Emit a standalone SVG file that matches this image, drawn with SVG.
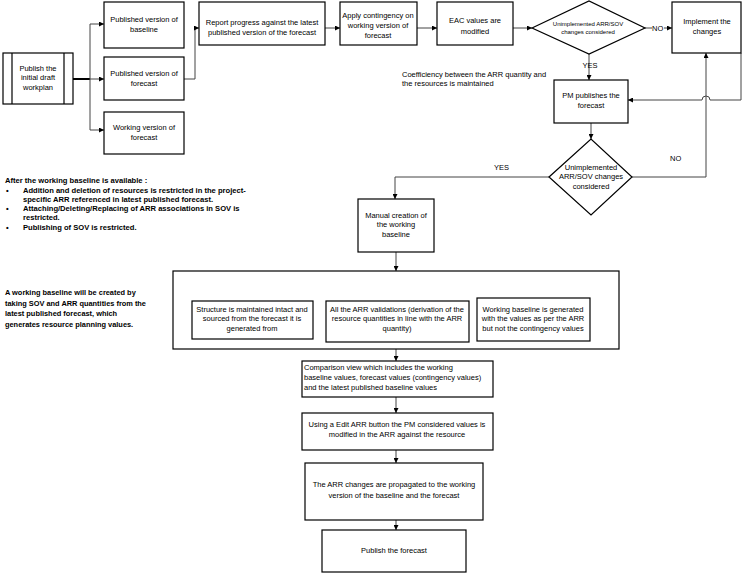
<svg xmlns="http://www.w3.org/2000/svg" width="747" height="574" viewBox="0 0 747 574">
<style>
.box{fill:#fff;stroke:#000;stroke-width:1.2}
.t{font-family:"Liberation Sans",Arial,sans-serif;font-size:7.5px;fill:#000;text-anchor:middle}
.tl{font-family:"Liberation Sans",Arial,sans-serif;font-size:7.5px;fill:#000}
.b{font-family:"Liberation Sans",Arial,sans-serif;font-size:7.6px;font-weight:bold;fill:#000}
.n{font-family:"Liberation Sans",Arial,sans-serif;font-size:7.4px;font-weight:bold;fill:#000}
.c{fill:none;stroke:#444;stroke-width:1}
</style>
<defs>
<marker id="a" viewBox="0 0 6 6" refX="6" refY="3" markerWidth="5" markerHeight="5" orient="auto" markerUnits="userSpaceOnUse">
<path d="M0,0 L6,3 L0,6 z" fill="#000"/>
</marker>
</defs>
<rect width="747" height="574" fill="#fff"/>

<g id="connectors">
<path d="M73,79 L90,79" stroke="#000" stroke-width="2" fill="none"/>
<path class="c" d="M90,24 L90,130"/>
<path class="c" d="M90,24 L104,24" marker-end="url(#a)"/>
<path class="c" d="M90,79 L104,79" marker-end="url(#a)"/>
<path class="c" d="M90,130 L104,130" marker-end="url(#a)"/>
<path class="c" d="M184,79 L195,79 L195,28 L199,28" marker-end="url(#a)"/>
<path class="c" d="M325,28 L340,28" marker-end="url(#a)"/>
<path class="c" d="M417,28 L437,28" marker-end="url(#a)"/>
<path class="c" d="M513,28 L532,28" marker-end="url(#a)"/>
<path class="c" d="M645,28 L652,28"/>
<path class="c" d="M664,28 L672,28" marker-end="url(#a)"/>
<path class="c" d="M589,54 L589,80" marker-end="url(#a)"/>
<path class="c" d="M741,53 L741,100 L710,100 A4,4 0 0 0 702,100 L628,100" marker-end="url(#a)"/>
<path class="c" d="M591,123 L591,139" marker-end="url(#a)"/>
<path class="c" d="M632,177 L706,177 L706,53" marker-end="url(#a)"/>
<path class="c" d="M549,177 L395,177 L395,199" marker-end="url(#a)"/>
<path class="c" d="M396,252 L396,271" marker-end="url(#a)"/>
<path class="c" d="M396,349 L396,361" marker-end="url(#a)"/>
<path class="c" d="M396,397 L396,413" marker-end="url(#a)"/>
<path class="c" d="M396,450 L396,463" marker-end="url(#a)"/>
<path class="c" d="M396,520 L396,530" marker-end="url(#a)"/>
<text class="tl" x="652" y="31">NO</text>
<text class="t" x="590" y="68">YES</text>
<text class="tl" x="670" y="161">NO</text>
<text class="tl" x="494" y="170">YES</text>
</g>

<g id="n-draft">
<rect class="box" x="3" y="53" width="70" height="51"/>
<path d="M12,53 L12,104 M64,53 L64,104" stroke="#000" stroke-width="1.2"/>
<text class="t" x="38" y="71">Publish the</text>
<text class="t" x="38" y="80">initial draft</text>
<text class="t" x="38" y="90">workplan</text>
</g>

<g id="n-pubbase">
<rect class="box" x="104" y="2" width="80" height="46"/>
<text class="t" x="144" y="22">Published version of</text>
<text class="t" x="144" y="32">baseline</text>
</g>

<g id="n-pubfc">
<rect class="box" x="104" y="57" width="80" height="43"/>
<text class="t" x="144" y="76">Published version of</text>
<text class="t" x="144" y="86">forecast</text>
</g>

<g id="n-workfc">
<rect class="box" x="104" y="112" width="80" height="42"/>
<text class="t" x="144" y="130">Working  version of</text>
<text class="t" x="144" y="140">forecast</text>
</g>

<g id="n-report">
<rect class="box" x="199" y="2" width="126" height="43"/>
<text class="t" x="262" y="25">Report progress against the latest</text>
<text class="t" x="262" y="35">published version of the forecast</text>
</g>

<g id="n-apply">
<rect class="box" x="340" y="2" width="77" height="43"/>
<text class="t" x="378" y="18">Apply contingency on</text>
<text class="t" x="378" y="28">working version of</text>
<text class="t" x="378" y="38">forecast</text>
</g>

<g id="n-eac">
<rect class="box" x="437" y="2" width="76" height="43"/>
<text class="t" x="475" y="23">EAC values are</text>
<text class="t" x="475" y="34">modified</text>
</g>

<g id="n-dec1">
<polygon class="box" points="532,28 589,1 645,28 589,54"/>
<text class="t" x="588" y="26" style="font-size:6px">Unimplemented ARR/SOV</text>
<text class="t" x="588" y="34" style="font-size:6px">changes considered</text>
</g>

<g id="n-impl">
<rect class="box" x="672" y="2" width="69" height="51"/>
<text class="t" x="707" y="24">Implement the</text>
<text class="t" x="707" y="34">changes</text>
</g>

<g id="n-coef">
<text class="tl" x="402" y="77">Coefficiency between the ARR quantity and</text>
<text class="tl" x="402" y="86">the resources  is maintained</text>
</g>

<g id="n-pm">
<rect class="box" x="554" y="80" width="74" height="43"/>
<text class="t" x="591" y="98">PM  publishes the</text>
<text class="t" x="591" y="108">forecast</text>
</g>

<g id="n-dec2">
<polygon class="box" points="549,177 591,139 632,177 591,215"/>
<text class="t" x="591" y="170">Unimplemented</text>
<text class="t" x="591" y="179">ARR/SOV changes</text>
<text class="t" x="591" y="189">considered</text>
</g>

<g id="n-after">
<text class="b" x="5" y="183">After the working baseline is available :</text>
<text class="b" x="6" y="193">•</text>
<text class="b" x="23" y="193">Addition and deletion of resources is restricted in the project-</text>
<text class="b" x="23" y="202">specific ARR referenced in latest published forecast.</text>
<text class="b" x="6" y="211">•</text>
<text class="b" x="23" y="211">Attaching/Deleting/Replacing of ARR associations in SOV is</text>
<text class="b" x="23" y="220">restricted.</text>
<text class="b" x="6" y="230">•</text>
<text class="b" x="23" y="230">Publishing of SOV is restricted.</text>
</g>

<g id="n-note">
<text class="n" x="5" y="295">A working baseline will be created by</text>
<text class="n" x="5" y="306">taking SOV and ARR quantities from the</text>
<text class="n" x="5" y="316">latest published forecast, which</text>
<text class="n" x="5" y="327">generates resource planning values.</text>
</g>

<g id="n-manual">
<rect class="box" x="358" y="199" width="76" height="53"/>
<text class="t" x="396" y="218">Manual creation of</text>
<text class="t" x="396" y="227">the  working</text>
<text class="t" x="396" y="237">baseline</text>
</g>

<g id="n-group">
<rect class="box" x="173" y="271" width="446" height="78"/>
</g>

<g id="n-struct">
<rect class="box" x="192" y="301" width="121" height="38"/>
<text class="t" x="252" y="312">Structure is maintained intact and</text>
<text class="t" x="252" y="321">sourced from the forecast it is</text>
<text class="t" x="252" y="331">generated from</text>
</g>

<g id="n-valid">
<rect class="box" x="326" y="301" width="143" height="41"/>
<text class="t" x="397" y="312">All the ARR validations (derivation of the</text>
<text class="t" x="397" y="321">resource quantities in line with the ARR</text>
<text class="t" x="397" y="331">quantity)</text>
</g>

<g id="n-wbgen">
<rect class="box" x="477" y="298" width="113" height="43"/>
<text class="t" x="533" y="312">Working baseline is generated</text>
<text class="t" x="533" y="321">with the values as per the ARR</text>
<text class="t" x="533" y="331">but not the contingency values</text>
</g>

<g id="n-compare">
<rect class="box" x="302" y="361" width="191" height="36"/>
<text class="tl" x="304" y="370">Comparison view  which includes the working</text>
<text class="tl" x="304" y="380">baseline values, forecast values (contingency values)</text>
<text class="tl" x="304" y="390">and the latest published baseline values</text>
</g>

<g id="n-edit">
<rect class="box" x="302" y="413" width="191" height="37"/>
<text class="t" x="397" y="427">Using a Edit ARR button the PM considered values is</text>
<text class="t" x="397" y="437">modified in the ARR against the resource</text>
</g>

<g id="n-propagate">
<rect class="box" x="305" y="463" width="178" height="57"/>
<text class="t" x="394" y="487">The ARR changes are propagated to the working</text>
<text class="t" x="394" y="498">version of the baseline and the forecast</text>
</g>

<g id="n-publish">
<rect class="box" x="322" y="530" width="144" height="42"/>
<text class="t" x="394" y="553">Publish the forecast</text>
</g>
</svg>
